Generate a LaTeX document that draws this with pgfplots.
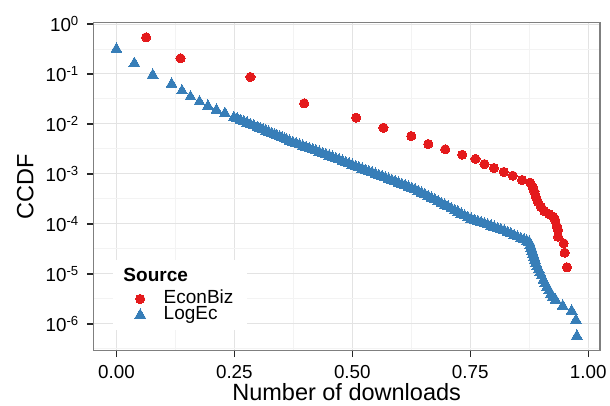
\documentclass[border=0pt]{standalone}
\usepackage{pgfplots}
\pgfplotsset{compat=1.18}
\usepackage{fontspec}
\setmainfont{Liberation Sans}
\definecolor{cred}{HTML}{E41A1C}
\definecolor{cblue}{HTML}{377EB8}
\definecolor{gmaj}{HTML}{E3E3E3}
\definecolor{gmin}{HTML}{F3F3F3}
\definecolor{gborder}{HTML}{7F7F7F}
\begin{document}
\begin{tikzpicture}
\useasboundingbox (-93.3bp,-55.3bp) rectangle (516.7bp,350.7bp);
\begin{axis}[
  scale only axis, width=506.7bp, height=328bp,
  at={(0,0)}, anchor=south west,
  ymode=log, log basis y=10,
  xmin=-0.049, xmax=1.025, ymin=2.92e-7, ymax=1.062,
  xtick={0,0.25,0.5,0.75,1}, xticklabels={0.00,0.25,0.50,0.75,1.00},
  ytick={1,1e-1,1e-2,1e-3,1e-4,1e-5,1e-6},
  yticklabels={10\textsuperscript{0},10\textsuperscript{-1},10\textsuperscript{-2},10\textsuperscript{-3},10\textsuperscript{-4},10\textsuperscript{-5},10\textsuperscript{-6}},
  minor xtick={0.125,0.375,0.625,0.875},
  minor ytick={0.316228,3.16228e-2,3.16228e-3,3.16228e-4,3.16228e-5,3.16228e-6,3.16228e-7},
  grid=both,
  major grid style={gmaj, line width=1bp},
  minor grid style={gmin, line width=1bp},
  xtick pos=left, ytick pos=left,
  tick align=outside,
  major tick length=6.5bp, minor tick length=0pt,
  tick style={line width=1.1bp, color=black!85},
  axis line style={gborder, line width=1.2bp},
  xticklabel style={font=\fontsize{18.8bp}{22bp}\selectfont, inner sep=0pt, anchor=north, yshift=-7.8bp},
  yticklabel style={font=\fontsize{18.8bp}{22bp}\selectfont, inner sep=0pt, anchor=east, xshift=-7.8bp},
  xlabel={Number of downloads},
  xlabel style={at={(axis description cs:0.5,-0.1503)}, anchor=base, inner sep=0pt, font=\fontsize{23.5bp}{28bp}\selectfont},
  ylabel={CCDF},
  ylabel style={at={(axis description cs:-0.1185,0.5)}, anchor=base, inner sep=0pt, font=\fontsize{23.5bp}{28bp}\selectfont},
  legend style={at={(axis description cs:0.0705,0.179)}, anchor=north west, draw=none, fill=none,
    inner sep=0pt, outer sep=0pt, row sep=0pt, column sep=0pt,
    font=\fontsize{19bp}{22bp}\selectfont, cells={anchor=base west},
    nodes={inner sep=0pt, text height=12bp, text depth=4bp}},
  legend image code/.code={\path (-11bp,0bp) (23.3bp,0bp); \draw[#1] plot coordinates {(0bp,5bp)};},
]
\fill[white] (axis description cs:0.0389,0.0631) rectangle (axis description cs:0.3033,0.2765);
\node[anchor=base west, inner sep=0pt, font=\bfseries\fontsize{19bp}{22bp}\selectfont] at (axis description cs:0.0592,0.2104) {Source};

\addplot[only marks, mark=*, mark size=4.6bp, color=cred, mark options={fill=cred, draw=cred, line width=0pt}] coordinates {
(0.063,5.42e-1) (0.136,2.06e-1) (0.284,8.71e-2) (0.398,2.59e-2) (0.508,1.34e-2)
(0.566,8.43e-3) (0.625,5.75e-3) (0.661,3.98e-3) (0.697,3.12e-3) (0.733,2.43e-3)
(0.761,2.00e-3) (0.780,1.58e-3) (0.800,1.32e-3) (0.821,1.10e-3) (0.840,9.25e-4)
(0.860,7.59e-4) (0.877,6.70e-4) (0.882,5.57e-4) (0.886,4.43e-4) (0.889,3.52e-4)
(0.893,2.79e-4) (0.900,2.22e-4) (0.907,1.82e-4) (0.917,1.58e-4) (0.926,1.40e-4)
(0.930,1.20e-4) (0.933,9.12e-5) (0.936,7.59e-5) (0.936,5.57e-5) (0.948,4.11e-5)
(0.950,2.67e-5) (0.955,1.36e-5)
};
\addlegendentry{EconBiz}

\addplot[only marks, mark=triangle*, mark size=6.2bp, color=cblue, mark options={fill=cblue, draw=cblue, line width=0pt}] coordinates {
(0.000,3.16e-1) (0.038,1.64e-1) (0.077,9.55e-2) (0.117,6.31e-2) (0.139,4.63e-2)
(0.157,3.52e-2) (0.176,2.79e-2) (0.194,2.29e-2) (0.212,1.91e-2) (0.230,1.64e-2)
(0.249,1.36e-2) (0.256,1.27e-2) (0.263,1.19e-2) (0.270,1.12e-2) (0.277,1.05e-2)
(0.284,9.85e-3) (0.291,9.25e-3) (0.299,8.59e-3) (0.305,8.12e-3) (0.311,7.67e-3)
(0.317,7.26e-3) (0.323,6.86e-3) (0.329,6.49e-3) (0.335,6.14e-3) (0.340,5.86e-3)
(0.346,5.54e-3) (0.351,5.28e-3) (0.356,5.04e-3) (0.361,4.82e-3) (0.367,4.55e-3)
(0.374,4.29e-3) (0.381,4.06e-3) (0.388,3.84e-3) (0.395,3.63e-3) (0.402,3.43e-3)
(0.409,3.24e-3) (0.416,3.07e-3) (0.423,2.90e-3) (0.430,2.74e-3) (0.437,2.59e-3)
(0.444,2.45e-3) (0.451,2.30e-3) (0.458,2.17e-3) (0.465,2.04e-3) (0.472,1.92e-3)
(0.479,1.81e-3) (0.486,1.70e-3) (0.493,1.60e-3) (0.500,1.51e-3) (0.507,1.42e-3)
(0.514,1.34e-3) (0.521,1.26e-3) (0.528,1.19e-3) (0.535,1.12e-3) (0.542,1.06e-3)
(0.549,1.00e-3) (0.556,9.44e-4) (0.563,8.91e-4) (0.570,8.40e-4) (0.577,7.89e-4)
(0.584,7.43e-4) (0.591,7.00e-4) (0.598,6.59e-4) (0.605,6.19e-4) (0.612,5.83e-4)
(0.619,5.50e-4) (0.626,5.18e-4) (0.633,4.86e-4) (0.640,4.52e-4) (0.647,4.18e-4)
(0.654,3.85e-4) (0.661,3.56e-4) (0.668,3.29e-4) (0.675,3.04e-4) (0.682,2.81e-4)
(0.689,2.59e-4) (0.696,2.39e-4) (0.703,2.21e-4) (0.710,2.04e-4) (0.717,1.87e-4)
(0.724,1.73e-4) (0.731,1.59e-4) (0.738,1.46e-4) (0.745,1.35e-4) (0.752,1.26e-4)
(0.759,1.19e-4) (0.766,1.13e-4) (0.773,1.07e-4) (0.780,1.02e-4) (0.787,9.64e-5)
(0.794,9.12e-5) (0.801,8.65e-5) (0.808,8.19e-5) (0.815,7.76e-5) (0.822,7.29e-5)
(0.829,6.81e-5) (0.836,6.35e-5) (0.843,5.93e-5) (0.850,5.53e-5) (0.857,5.16e-5)
(0.864,4.82e-5) (0.870,4.55e-5) (0.875,4.37e-5) (0.877,3.80e-5) (0.879,3.31e-5)
(0.881,2.88e-5) (0.883,2.51e-5) (0.885,2.19e-5) (0.887,1.91e-5) (0.889,1.64e-5)
(0.892,1.41e-5) (0.895,1.23e-5) (0.898,1.07e-5) (0.901,9.20e-6) (0.905,7.59e-6)
(0.909,6.46e-6) (0.913,5.50e-6) (0.917,4.68e-6) (0.921,3.98e-6) (0.925,3.47e-6)
(0.931,3.02e-6) (0.946,2.29e-6) (0.965,1.82e-6) (0.974,1.20e-6) (0.976,5.75e-7)
};
\addlegendentry{LogEc}
\end{axis}
\end{tikzpicture}
\end{document}
